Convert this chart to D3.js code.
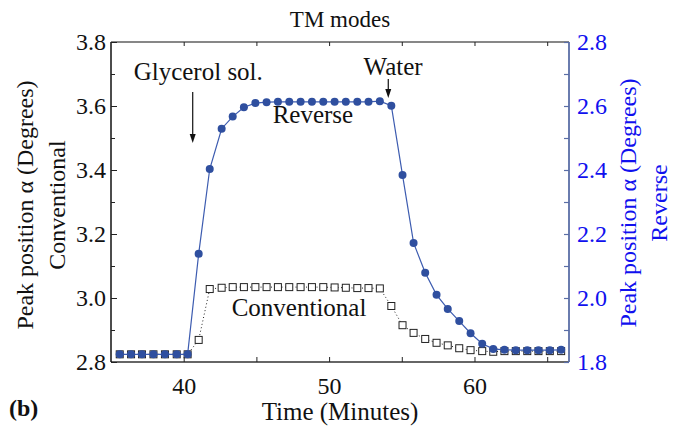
<!DOCTYPE html>
<html>
<head>
<meta charset="utf-8">
<script src="https://cdn.jsdelivr.net/npm/d3@7"></script>
<style>
  body { margin: 0; background: #fff; }
</style>
</head>
<body>
<svg id="chart" width="674" height="432"></svg>
<script>
// Sampling times (minutes)
const time = [35.60, 36.38, 37.13, 37.92, 38.71, 39.52, 40.27, 41.03, 41.79, 42.61,
              43.37, 44.14, 44.93, 45.70, 46.48, 47.26, 48.04, 48.82, 49.60, 50.38,
              51.15, 51.94, 52.71, 53.49, 54.28, 55.05, 55.81, 56.61, 57.39, 58.16,
              58.95, 59.73, 60.53, 61.29, 62.06, 62.84, 63.63, 64.40, 65.18, 65.96];

// Peak position, conventional TM mode (left axis, degrees)
const conventional = [2.824, 2.824, 2.824, 2.824, 2.824, 2.824, 2.824, 2.869, 3.028, 3.032,
                      3.034, 3.034, 3.034, 3.034, 3.034, 3.034, 3.034, 3.034, 3.034, 3.033,
                      3.032, 3.031, 3.031, 3.030, 2.975, 2.915, 2.891, 2.872, 2.860, 2.852,
                      2.843, 2.837, 2.834, 2.832, 2.834, 2.834, 2.834, 2.834, 2.834, 2.834];

// Peak position, reverse TM mode (right axis, degrees)
const reverse = [1.824, 1.824, 1.824, 1.824, 1.824, 1.824, 1.824, 2.138, 2.403, 2.529,
                 2.567, 2.596, 2.609, 2.612, 2.613, 2.613, 2.613, 2.613, 2.613, 2.613,
                 2.613, 2.613, 2.613, 2.615, 2.601, 2.384, 2.172, 2.079, 2.010, 1.966,
                 1.928, 1.890, 1.857, 1.841, 1.838, 1.837, 1.837, 1.837, 1.837, 1.838];

const xTickLabels = [40, 50, 60];
const leftTickLabels = ["2.8", "3.0", "3.2", "3.4", "3.6", "3.8"];
const rightTickLabels = ["1.8", "2.0", "2.2", "2.4", "2.6", "2.8"];

const FONT = '"Liberation Serif", "Times New Roman", serif';

const svg = d3.select("#chart");
const L = 111, R = 569, T = 42, B = 362;

const x = d3.scaleLinear().domain([35, 66.5]).range([L, R]);
const yL = d3.scaleLinear().domain([2.8, 3.8]).range([B, T]);
const yR = d3.scaleLinear().domain([1.8, 2.8]).range([B, T]);

const blue = "#2f4f9f";
const axisBlue = "#5a6ea6";
const labelBlue = "#1010ee";

function label(sel, size, fill) {
  return sel.attr("font-size", size).attr("fill", fill || "#111").style("font-family", FONT);
}

// Frame: bottom, top, left (black) and right (blue)
svg.append("line").attr("x1", L).attr("x2", R).attr("y1", B).attr("y2", B).attr("stroke", "#333").attr("stroke-width", 1.5);
svg.append("line").attr("x1", L).attr("x2", R).attr("y1", T).attr("y2", T).attr("stroke", "#111").attr("stroke-width", 1.2);
svg.append("line").attr("x1", L).attr("x2", L).attr("y1", T).attr("y2", B).attr("stroke", "#111").attr("stroke-width", 1.5);
svg.append("line").attr("x1", R).attr("x2", R).attr("y1", T).attr("y2", B).attr("stroke", axisBlue).attr("stroke-width", 1.8);

// X ticks (bottom, inward) and labels
const xTicks = d3.range(40, 66, 5);
const xAxis = d3.axisBottom(x).tickValues(xTicks).tickSize(-5)
  .tickFormat(d => xTickLabels.includes(d) ? d : "");
const gx = svg.append("g").attr("transform", `translate(0,${B})`).call(xAxis);
gx.select(".domain").remove();
gx.selectAll(".tick line").attr("stroke", "#222");
label(gx.selectAll(".tick text"), 24).attr("dy", 0).attr("y", 32);

// X ticks on the top border
const gxt = svg.append("g").attr("transform", `translate(0,${T})`)
  .call(d3.axisTop(x).tickValues(xTicks).tickSize(-4).tickFormat(""));
gxt.select(".domain").remove();
gxt.selectAll(".tick line").attr("stroke", "#222");

// Left axis
const gl = svg.append("g").attr("transform", `translate(${L},0)`)
  .call(d3.axisLeft(yL).tickValues(d3.range(0, 11).map(i => 2.8 + i * 0.1)).tickSize(-4).tickFormat(""));
gl.select(".domain").remove();
gl.selectAll(".tick line").attr("stroke", "#222")
  .attr("x2", (d, i) => i % 2 === 0 ? 6 : 4);
label(svg.append("g").selectAll("text").data(leftTickLabels).join("text")
  .attr("x", L - 5).attr("y", d => yL(+d)).attr("dy", "0.35em")
  .attr("text-anchor", "end").text(d => d), 24);

// Right axis
const gr = svg.append("g").attr("transform", `translate(${R},0)`)
  .call(d3.axisRight(yR).tickValues(d3.range(0, 11).map(i => 1.8 + i * 0.1)).tickSize(-5).tickFormat(""));
gr.select(".domain").remove();
gr.selectAll(".tick line").attr("stroke", axisBlue).attr("stroke-width", 1.2);
label(svg.append("g").selectAll("text").data(rightTickLabels).join("text")
  .attr("x", R + 8).attr("y", d => yR(+d)).attr("dy", "0.35em")
  .attr("text-anchor", "start").text(d => d), 24, labelBlue);

// Conventional series: dotted line with open squares
const convPts = time.map((t, i) => [t, conventional[i]]);
svg.append("path").datum(convPts)
  .attr("d", d3.line().x(d => x(d[0])).y(d => yL(d[1])))
  .attr("fill", "none").attr("stroke", "#222").attr("stroke-width", 1)
  .attr("stroke-dasharray", "1,2.5");
svg.append("g").selectAll("rect").data(convPts).join("rect")
  .attr("x", d => x(d[0]) - 3.5).attr("y", d => yL(d[1]) - 3.5)
  .attr("width", 7).attr("height", 7)
  .attr("fill", "#fff").attr("stroke", "#222").attr("stroke-width", 1);

// Reverse series: solid blue line with filled circles
const revPts = time.map((t, i) => [t, reverse[i]]);
svg.append("path").datum(revPts)
  .attr("d", d3.line().x(d => x(d[0])).y(d => yR(d[1])))
  .attr("fill", "none").attr("stroke", "#3d5cb0").attr("stroke-width", 1.2);
svg.append("g").selectAll("circle").data(revPts).join("circle")
  .attr("cx", d => x(d[0])).attr("cy", d => yR(d[1])).attr("r", 4)
  .attr("fill", blue);

// Annotations
const annFont = 25;
label(svg.append("text").attr("x", x(36.56)).attr("y", yL(3.681)).text("Glycerol sol."), annFont);
label(svg.append("text").attr("x", x(52.37)).attr("y", yL(3.697)).text("Water"), annFont);
label(svg.append("text").attr("x", x(46.12)).attr("y", yL(3.547)).text("Reverse"), annFont);
label(svg.append("text").attr("x", x(43.30)).attr("y", yL(2.944)).text("Conventional"), annFont);

// Arrows
function arrow(t, v0, v1) {
  const ax = x(t), ay0 = yL(v0), ay1 = yL(v1);
  svg.append("line").attr("x1", ax).attr("x2", ax).attr("y1", ay0).attr("y2", ay1 - 8)
    .attr("stroke", "#111").attr("stroke-width", 1.2);
  svg.append("path")
    .attr("d", `M${ax - 3},${ay1 - 9} L${ax + 3},${ay1 - 9} L${ax},${ay1} Z`)
    .attr("fill", "#111");
}
arrow(40.62, 3.644, 3.484);
arrow(54.07, 3.684, 3.625);

// Titles
label(svg.append("text").attr("x", 340).attr("y", 27).attr("text-anchor", "middle").text("TM modes"), 23);
label(svg.append("text").attr("x", 340).attr("y", 420).attr("text-anchor", "middle").text("Time (Minutes)"), 25);
label(svg.append("text").attr("x", 9).attr("y", 416).attr("font-weight", "bold").text("(b)"), 24);

// Left axis title (two lines)
label(svg.append("text").attr("transform", "translate(33,205) rotate(-90)").attr("text-anchor", "middle")
  .text("Peak position \u03b1 (Degrees)"), 24);
label(svg.append("text").attr("transform", "translate(65,205) rotate(-90)").attr("text-anchor", "middle")
  .text("Conventional"), 24);

// Right axis title (two lines)
label(svg.append("text").attr("transform", "translate(636,203) rotate(-90)").attr("text-anchor", "middle")
  .text("Peak position \u03b1 (Degrees)"), 24, labelBlue);
label(svg.append("text").attr("transform", "translate(667,203) rotate(-90)").attr("text-anchor", "middle")
  .text("Reverse"), 24, labelBlue);
</script>
</body>
</html>
